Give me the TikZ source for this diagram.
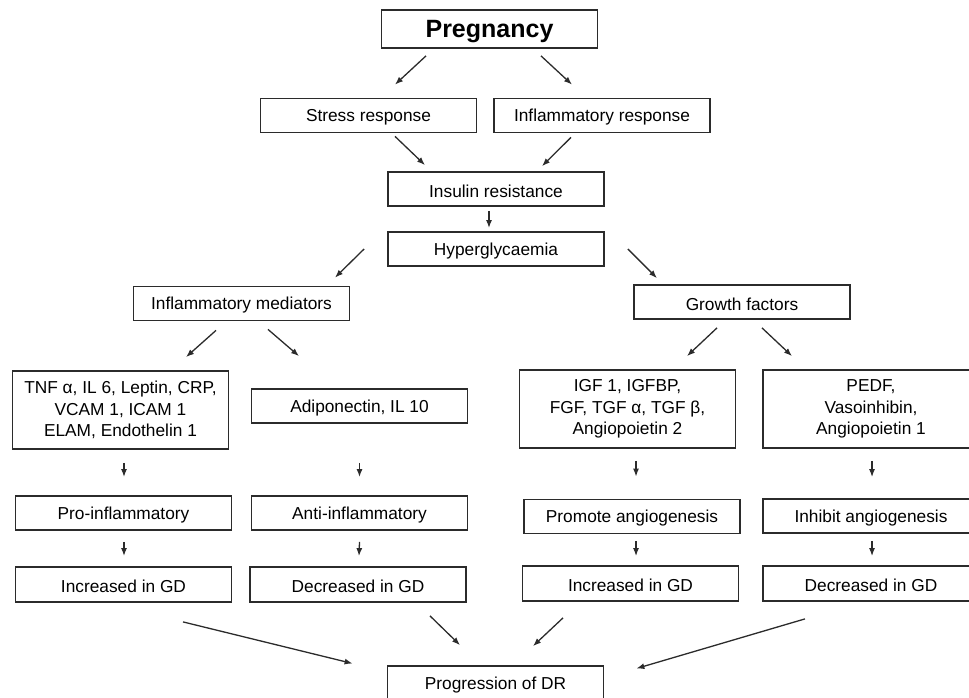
\documentclass[tikz,border=0pt]{standalone}
\usepackage{fontspec}
\setmainfont{Liberation Sans}
\usepackage{xcolor}
\usetikzlibrary{arrows.meta,positioning}
\definecolor{boxline}{HTML}{2B2B2B}

\begin{document}
\begin{tikzpicture}[x=1pt, y=-1pt,
    box/.style={rectangle, draw=boxline, line width=1.8pt, fill=white, font=\fontsize{17.3}{21.5}\selectfont, align=center, minimum width=216pt, minimum height=34pt, inner sep=2pt, execute at begin node=\rule{0pt}{16.5pt}},
    arr/.style={-{Latex[length=8pt,width=6pt]}, line width=1.3pt, boxline}
]
\useasboundingbox (0,0) rectangle (969,698);

% top of the chain
\node[box, minimum height=38pt, font=\fontsize{25}{30}\selectfont\bfseries, execute at begin node=\rule{0pt}{22pt}] (preg) at (489.5,29) {Pregnancy};
\node[box] (stress) at (368.5,115.5) {Stress response};
\node[box] (inflresp) at (602,115.5) {Inflammatory response};
\node[box] (insulin) at (496,189) {Insulin resistance};
\node[box] (hyper) at (496,249) {Hyperglycaemia};

% two branches
\node[box] (infmed) at (241.5,303.5) {Inflammatory mediators};
\node[box] (growth) at (742,302) {Growth factors};

\node[box, minimum height=78pt] (tnf) at (120.5,410) {TNF α, IL 6, Leptin, CRP,\\VCAM 1, ICAM 1\\ELAM, Endothelin 1};
\node[box] (adipo) at (359.5,406) {Adiponectin, IL 10};
\node[box, minimum height=78pt] (igf) at (627.5,409) {IGF 1, IGFBP,\\FGF, TGF α, TGF β,\\Angiopoietin 2};
\node[box, minimum height=78pt] (pedf) at (871,409) {PEDF,\\Vasoinhibin,\\Angiopoietin 1};

\node[box] (pro) at (123.5,513) {Pro-inflammatory};
\node[box] (anti) at (359.5,513) {Anti-inflammatory};
\node[box] (promote) at (632,516.5) {Promote angiogenesis};
\node[box] (inhibit) at (871,516) {Inhibit angiogenesis};

\node[box, minimum height=35pt] (incL) at (123.5,584.5) {Increased in GD};
\node[box, minimum height=35pt] (decL) at (358,584.5) {Decreased in GD};
\node[box, minimum height=35pt] (incR) at (630.5,583.5) {Increased in GD};
\node[box, minimum height=35pt] (decR) at (871,583.5) {Decreased in GD};

\node[box, minimum height=35pt] (prog) at (495.5,683.5) {Progression of DR};

% connectors
\draw[arr] ([shift={(-63.5,7)}]preg.south) -- ([shift={(26.5,-13)}]stress.north);
\draw[arr] ([shift={(51.5,7)}]preg.south) -- ([shift={(-30,-13)}]inflresp.north);
\draw[arr] ([shift={(26.5,3)}]stress.south) -- ([shift={(-71,-6)}]insulin.north);
\draw[arr] ([shift={(-31,4)}]inflresp.south) -- ([shift={(46,-5)}]insulin.north);
\draw[arr] ([shift={(-7,4)}]insulin.south) -- ([shift={(-7,-3)}]hyper.north);
\draw[arr] ([shift={(-23,0)}]hyper.west) -- ([shift={(93.5,-8)}]infmed.north);
\draw[arr] ([shift={(23,0)}]hyper.east) -- ([shift={(-85,-6)}]growth.north);

\draw[arr] ([shift={(-25.5,9)}]infmed.south) -- ([shift={(65.5,-13)}]tnf.north);
\draw[arr] ([shift={(26.5,8)}]infmed.south) -- ([shift={(-60.5,-32)}]adipo.north);
\draw[arr] ([shift={(-25,8)}]growth.south) -- ([shift={(59.5,-13)}]igf.north);
\draw[arr] ([shift={(20,8)}]growth.south) -- ([shift={(-79,-13)}]pedf.north);

\draw[arr] ([shift={(3.5,13)}]tnf.south) -- ([shift={(0.5,-18)}]pro.north);
\draw[arr] ([shift={(0,39)}]adipo.south) -- ([shift={(0,-18)}]anti.north);
\draw[arr] ([shift={(8.5,12)}]igf.south) -- ([shift={(4,-22)}]promote.north);
\draw[arr] ([shift={(1,12)}]pedf.south) -- ([shift={(1,-21)}]inhibit.north);

\draw[arr] ([shift={(0.5,11)}]pro.south) -- ([shift={(0.5,-10)}]incL.north);
\draw[arr] ([shift={(0,11)}]anti.south) -- ([shift={(1,-10)}]decL.north);
\draw[arr] ([shift={(4,7)}]promote.south) -- ([shift={(5.5,-9)}]incR.north);
\draw[arr] ([shift={(1,7)}]inhibit.south) -- ([shift={(1,-9)}]decR.north);

\draw[arr] ([shift={(59.5,19)}]incL.south) -- ([shift={(-34,-20)}]prog.west);
\draw[arr] ([shift={(72,13)}]decL.south) -- ([shift={(-35.5,-20)}]prog.north);
\draw[arr] ([shift={(-67.5,16)}]incR.south) -- ([shift={(37.5,-19)}]prog.north);
\draw[arr] ([shift={(-66,17)}]decR.south) -- ([shift={(32,-15)}]prog.east);
\end{tikzpicture}
\end{document}
